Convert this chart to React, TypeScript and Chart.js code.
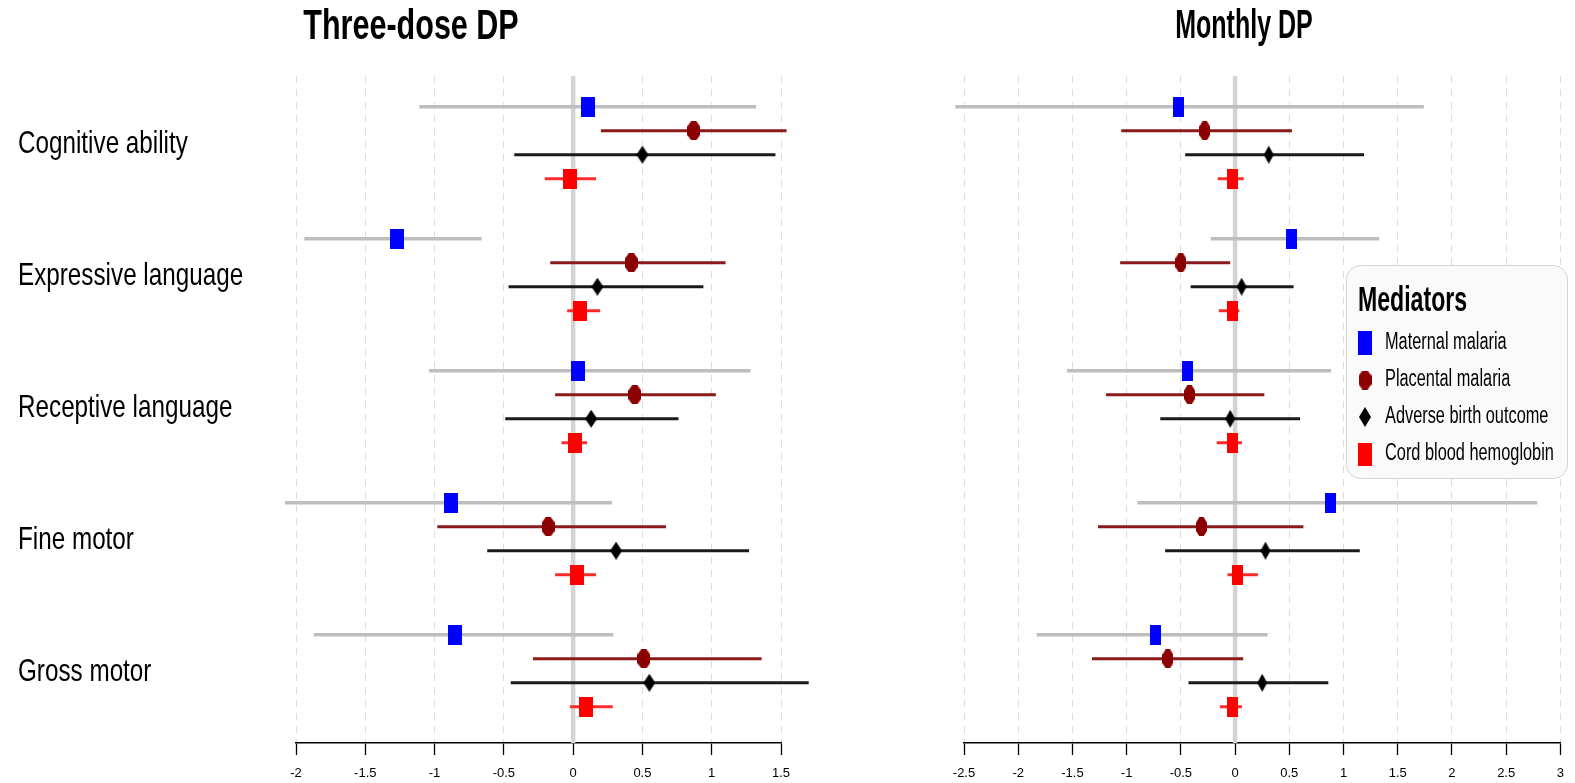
import React, { useEffect, useRef } from 'react';
import { Chart, registerables } from 'chart.js';

Chart.register(...registerables);

// ---------- DATA ----------
const outcomes = ['Cognitive ability', 'Expressive language', 'Receptive language', 'Fine motor', 'Gross motor'];
const mediators = ['Maternal malaria', 'Placental malaria', 'Adverse birth outcome', 'Cord blood hemoglobin'];
const panelTitles = ['Three-dose DP', 'Monthly DP'];
const legendTitle = 'Mediators';

const threeDoseTicks = [-2, -1.5, -1, -0.5, 0, 0.5, 1, 1.5];
const monthlyTicks = [-2.5, -2, -1.5, -1, -0.5, 0, 0.5, 1, 1.5, 2, 2.5, 3];

// Three-dose DP (one value per outcome)
const threeDoseMaternalEst = [0.11, -1.27, 0.035, -0.88, -0.85];
const threeDoseMaternalLow = [-1.11, -1.94, -1.04, -2.08, -1.87];
const threeDoseMaternalHigh = [1.32, -0.66, 1.28, 0.28, 0.29];

const threeDosePlacentalEst = [0.87, 0.42, 0.445, -0.18, 0.51];
const threeDosePlacentalLow = [0.2, -0.165, -0.13, -0.98, -0.29];
const threeDosePlacentalHigh = [1.54, 1.1, 1.03, 0.67, 1.36];

const threeDoseAdverseEst = [0.5, 0.175, 0.13, 0.31, 0.55];
const threeDoseAdverseLow = [-0.425, -0.466, -0.49, -0.62, -0.45];
const threeDoseAdverseHigh = [1.46, 0.94, 0.76, 1.27, 1.7];

const threeDoseCordEst = [-0.02, 0.053, 0.013, 0.025, 0.09];
const threeDoseCordLow = [-0.205, -0.043, -0.084, -0.13, -0.023];
const threeDoseCordHigh = [0.165, 0.195, 0.1, 0.165, 0.286];

// Monthly DP
const monthlyMaternalEst = [-0.52, 0.52, -0.435, 0.88, -0.73];
const monthlyMaternalLow = [-2.58, -0.225, -1.55, -0.9, -1.83];
const monthlyMaternalHigh = [1.74, 1.33, 0.885, 2.785, 0.3];

const monthlyPlacentalEst = [-0.28, -0.5, -0.42, -0.31, -0.62];
const monthlyPlacentalLow = [-1.05, -1.06, -1.19, -1.265, -1.32];
const monthlyPlacentalHigh = [0.525, -0.045, 0.27, 0.63, 0.075];

const monthlyAdverseEst = [0.31, 0.06, -0.045, 0.28, 0.25];
const monthlyAdverseLow = [-0.46, -0.41, -0.69, -0.645, -0.43];
const monthlyAdverseHigh = [1.19, 0.54, 0.6, 1.15, 0.86];

const monthlyCordEst = [-0.02, -0.02, -0.02, 0.026, -0.02];
const monthlyCordLow = [-0.16, -0.15, -0.17, -0.07, -0.14];
const monthlyCordHigh = [0.08, 0.04, 0.064, 0.21, 0.064];

// ---------- STYLE ----------
const FONT = '"Liberation Sans", Arial, Helvetica, sans-serif';
const markerColors = ['#0000FF', '#8B0000', '#000000', '#FF0000'];
const ciColors = ['#BEBEBE', '#8B1A1A', '#1A1A1A', '#FF2A2A'];
const ciWidths = [3.5, 3, 3, 3];
const markerShapes = ['rect', 'octagon', 'diamond', 'rect'];

const Y_MIN = -1.28;
const Y_MAX = 26.51;
const LABEL_OFFSET = 1.56;
const rowOf = (outcomeIndex: number, mediatorIndex: number) => outcomeIndex * 5.5 + mediatorIndex;

function makeMarker(shape: string, w: number, h: number, color: string): HTMLCanvasElement {
  const c = document.createElement('canvas');
  c.width = w;
  c.height = h;
  const ctx = c.getContext('2d')!;
  ctx.fillStyle = color;
  ctx.beginPath();
  if (shape === 'rect') {
    ctx.rect(0, 0, w, h);
  } else if (shape === 'octagon') {
    ctx.moveTo(w * 0.3, 0);
    ctx.lineTo(w * 0.7, 0);
    ctx.lineTo(w, h * 0.28);
    ctx.lineTo(w, h * 0.72);
    ctx.lineTo(w * 0.7, h);
    ctx.lineTo(w * 0.3, h);
    ctx.lineTo(0, h * 0.72);
    ctx.lineTo(0, h * 0.28);
    ctx.closePath();
  } else {
    ctx.moveTo(w / 2, 0);
    ctx.lineTo(w, h / 2);
    ctx.lineTo(w / 2, h);
    ctx.lineTo(0, h / 2);
    ctx.closePath();
  }
  ctx.fill();
  return c;
}

// text drawn horizontally condensed, as in the reference
function drawCondensed(
  ctx: CanvasRenderingContext2D,
  text: string,
  x: number,
  y: number,
  font: string,
  sx: number,
  align: CanvasTextAlign
) {
  ctx.save();
  ctx.font = font;
  ctx.fillStyle = '#000';
  ctx.textBaseline = 'middle';
  ctx.textAlign = align;
  ctx.translate(x, y);
  ctx.scale(sx, 1);
  ctx.fillText(text, 0, 0);
  ctx.restore();
}

interface PanelDef {
  title: string;
  titleX: number;
  titleSize: number;
  titleScale: number;
  ticks: number[];
  est: number[][];
  low: number[][];
  high: number[][];
  markerSizes: number[][];
  showLabels: boolean;
  padLeft: number;
  padRight: number;
  legend: boolean;
  width: number;
  left: number;
}

const panels: PanelDef[] = [
  {
    title: panelTitles[0],
    titleX: 411,
    titleSize: 43,
    titleScale: 0.71,
    ticks: threeDoseTicks,
    est: [threeDoseMaternalEst, threeDosePlacentalEst, threeDoseAdverseEst, threeDoseCordEst],
    low: [threeDoseMaternalLow, threeDosePlacentalLow, threeDoseAdverseLow, threeDoseCordLow],
    high: [threeDoseMaternalHigh, threeDosePlacentalHigh, threeDoseAdverseHigh, threeDoseCordHigh],
    markerSizes: [[14, 20], [13, 19], [12, 18], [14, 20]],
    showLabels: true,
    padLeft: 296,
    padRight: 49,
    legend: false,
    width: 830,
    left: 0,
  },
  {
    title: panelTitles[1],
    titleX: 414,
    titleSize: 41,
    titleScale: 0.61,
    ticks: monthlyTicks,
    est: [monthlyMaternalEst, monthlyPlacentalEst, monthlyAdverseEst, monthlyCordEst],
    low: [monthlyMaternalLow, monthlyPlacentalLow, monthlyAdverseLow, monthlyCordLow],
    high: [monthlyMaternalHigh, monthlyPlacentalHigh, monthlyAdverseHigh, monthlyCordHigh],
    markerSizes: [[11, 20], [11, 19], [10, 18], [11, 20]],
    showLabels: false,
    padLeft: 134,
    padRight: 8,
    legend: true,
    width: 745,
    left: 830,
  },
];

const legendMarkerSizes = [[14, 24], [13, 19], [12, 20], [14, 23]];

function drawLegend(ctx: CanvasRenderingContext2D) {
  const bx = 516, by = 265, bw = 221, bh = 213;
  ctx.save();
  ctx.beginPath();
  (ctx as any).roundRect(bx + 0.5, by + 0.5, bw, bh, 14);
  ctx.fillStyle = '#FAFAFA';
  ctx.fill();
  ctx.strokeStyle = '#D4D4D4';
  ctx.lineWidth = 1;
  ctx.stroke();
  ctx.restore();
  drawCondensed(ctx, legendTitle, 528, 301, `bold 35px ${FONT}`, 0.66, 'left');
  mediators.forEach((m, j) => {
    const cy = 343 + j * 37;
    const [w, h] = legendMarkerSizes[j];
    const mk = makeMarker(markerShapes[j], w, h, markerColors[j]);
    ctx.drawImage(mk, 535 - w / 2, cy - h / 2);
    drawCondensed(ctx, m, 555, cy, `23.5px ${FONT}`, 0.695, 'left');
  });
}

function makeTextPlugin(p: PanelDef) {
  return {
    id: 'panelText',
    afterDraw(chart: any) {
      const ctx = chart.ctx as CanvasRenderingContext2D;
      drawCondensed(ctx, p.title, p.titleX, 27, `bold ${p.titleSize}px ${FONT}`, p.titleScale, 'center');
      if (p.showLabels) {
        const yScale = chart.scales.y;
        outcomes.forEach((o, i) => {
          const y = yScale.getPixelForValue(rowOf(i, 0) + LABEL_OFFSET);
          drawCondensed(ctx, o, 18, y, `31.5px ${FONT}`, 0.77, 'left');
        });
      }
      if (p.legend) drawLegend(ctx);
    },
  };
}

function buildConfig(p: PanelDef): any {
  const datasets: any[] = [];
  mediators.forEach((m, j) => {
    const [w, h] = p.markerSizes[j];
    datasets.push({
      label: m,
      data: outcomes.map((_, i) => ({ x: p.est[j][i], y: rowOf(i, j) })),
      pointStyle: makeMarker(markerShapes[j], w, h, markerColors[j]),
      pointRadius: 10,
      showLine: false,
      order: 0,
      clip: false,
    });
  });
  mediators.forEach((m, j) => {
    outcomes.forEach((o, i) => {
      datasets.push({
        label: `${m} CI – ${o}`,
        data: [
          { x: p.low[j][i], y: rowOf(i, j) },
          { x: p.high[j][i], y: rowOf(i, j) },
        ],
        showLine: true,
        borderColor: ciColors[j],
        borderWidth: ciWidths[j],
        borderCapStyle: 'butt',
        pointRadius: 0,
        order: 1,
        clip: false,
      });
    });
  });
  datasets.push({
    label: 'zero',
    data: [
      { x: 0, y: Y_MIN },
      { x: 0, y: Y_MAX },
    ],
    showLine: true,
    borderColor: '#D3D3D3',
    borderWidth: 4.5,
    pointRadius: 0,
    order: 2,
  });

  const scales: any = {
    x: {
      type: 'linear',
      min: p.ticks[0],
      max: p.ticks[p.ticks.length - 1],
      afterBuildTicks: (s: any) => {
        s.ticks = p.ticks.map((v) => ({ value: v }));
      },
      ticks: {
        font: { family: FONT, size: 13 },
        color: '#000',
        padding: 11,
        autoSkip: false,
        maxRotation: 0,
        callback: (v: number) => String(v),
      },
      grid: {
        color: '#DCDCDC',
        lineWidth: 1,
        tickLength: 12,
        tickColor: '#000',
        tickWidth: 1.3,
      },
      border: { display: true, color: '#000', width: 1.6, dash: [7, 6] },
      afterFit: (s: any) => {
        s.height = 40;
      },
    },
    y: {
      type: 'linear',
      display: false,
      min: Y_MIN,
      max: Y_MAX,
      reverse: true,
    },
  };

  return {
    type: 'scatter',
    data: { datasets },
    options: {
      responsive: false,
      maintainAspectRatio: false,
      animation: false,
      devicePixelRatio: 1,
      events: [],
      layout: { padding: { left: p.padLeft, right: p.padRight, top: 76, bottom: 0 } },
      plugins: {
        legend: { display: false },
        tooltip: { enabled: false },
        title: { display: false },
      },
      scales,
    },
    plugins: [makeTextPlugin(p)],
  };
}

function PanelChart({ panel }: { panel: PanelDef }) {
  const ref = useRef<HTMLCanvasElement>(null);
  useEffect(() => {
    const chart = new Chart(ref.current!, buildConfig(panel));
    return () => chart.destroy();
  }, [panel]);
  return (
    <canvas
      ref={ref}
      width={panel.width}
      height={783}
      style={{ position: 'absolute', left: panel.left, top: 0, width: panel.width, height: 783 }}
    />
  );
}

export default function App() {
  return (
    <div style={{ position: 'absolute', left: 0, top: 0, width: 1575, height: 783, background: '#fff' }}>
      {panels.map((p) => (
        <PanelChart key={p.title} panel={p} />
      ))}
    </div>
  );
}
